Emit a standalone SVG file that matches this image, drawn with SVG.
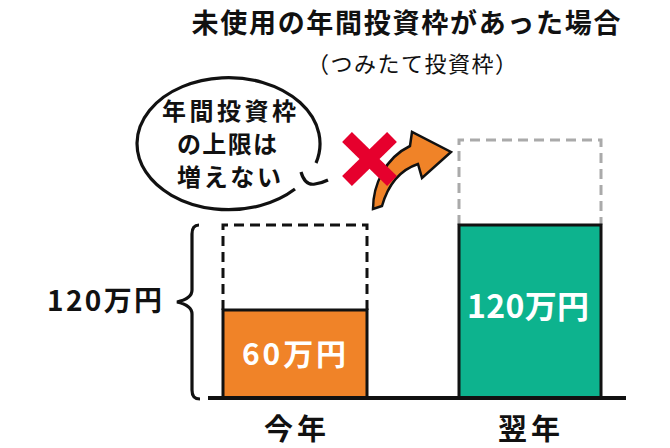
<svg xmlns="http://www.w3.org/2000/svg" width="670" height="448" viewBox="0 0 670 448">
<style>
  .t { font-family: "Noto Sans CJK JP", "Noto Sans", sans-serif; }
  .b { font-weight: 700; fill: #111; }
  .w { font-weight: 700; fill: #fff; }
  .ln { fill: none; stroke: #111; stroke-width: 3.2; }
  .dash { fill: none; stroke-width: 3; stroke-dasharray: 10 6; }
</style>
<rect width="670" height="448" fill="#fff"/>
<g id="title">
  <text class="t b" x="406" y="33" font-size="27" text-anchor="middle" textLength="429" lengthAdjust="spacing">未使用の年間投資枠があった場合</text>
  <text class="t" x="412" y="72" font-size="22" fill="#111" text-anchor="middle" textLength="210" lengthAdjust="spacing">（つみたて投資枠）</text>
</g>
<g id="bubble">
  <path class="ln" d="M 316 163 A 91.5 66 0 1 0 295 189"/>
  <path class="ln" d="M 301 172 Q 305 186 315 184 Q 322 183 328 180"/>
  <text class="t b" x="229" y="120" font-size="24" text-anchor="middle" textLength="134" lengthAdjust="spacing">年間投資枠</text>
  <text class="t b" x="227" y="153" font-size="24" text-anchor="middle" textLength="100" lengthAdjust="spacing">の上限は</text>
  <text class="t b" x="229" y="186" font-size="24" text-anchor="middle" textLength="104" lengthAdjust="spacing">増えない</text>
</g>
<g id="total-label">
  <path class="ln" stroke-width="3.5" d="M 199 225 C 194 225 192 228 192 234 L 192 290 C 192 297 186 300 177 302 C 186 304 192 307 192 314 L 192 390 C 192 396 194 399 200 399"/>
  <text class="t b" x="47" y="311" font-size="28" textLength="115" lengthAdjust="spacing">120万円</text>
</g>
<g id="this-year">
  <path class="dash" stroke="#111" d="M 223 310 L 223 225 L 367 225 L 367 310"/>
  <rect x="223" y="310" width="144" height="88" fill="#F08328" stroke="#111" stroke-width="3"/>
  <text class="t w" x="294" y="365" font-size="30" text-anchor="middle" textLength="104" lengthAdjust="spacing">60万円</text>
  <text class="t b" x="295" y="440" font-size="29" text-anchor="middle" textLength="62" lengthAdjust="spacing">今年</text>
</g>
<g id="next-year">
  <path class="dash" stroke="#AAAAAA" stroke-width="3.5" d="M 459 225 L 459 140 L 601 140 L 601 225"/>
  <rect x="459" y="225" width="142" height="173" fill="#0DB38E" stroke="#111" stroke-width="3"/>
  <text class="t w" x="528" y="318" font-size="32" text-anchor="middle" textLength="122" lengthAdjust="spacing">120万円</text>
  <text class="t b" x="529" y="440" font-size="29" text-anchor="middle" textLength="62" lengthAdjust="spacing">翌年</text>
</g>
<g id="connectors">
  <line x1="208" y1="398" x2="626" y2="398" stroke="#111" stroke-width="4"/>
  <path d="M 373 209 C 373 185 385 158 410 146 L 412 132 L 451 152 L 422 178 L 418 164 C 400 170 388 185 382 206 Z" fill="#F08328" stroke="#111" stroke-width="2.5" stroke-linejoin="miter"/>
  <g stroke="#E6002D" stroke-width="14" stroke-linecap="butt">
    <line x1="347" y1="137" x2="392" y2="181"/>
    <line x1="392" y1="137" x2="347" y2="181"/>
  </g>
</g>
</svg>
